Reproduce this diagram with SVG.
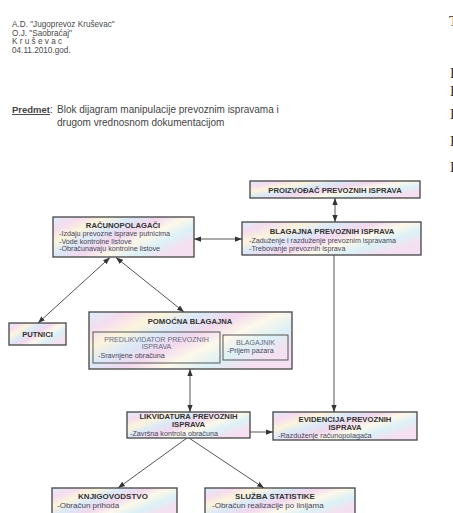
<svg xmlns="http://www.w3.org/2000/svg" width="453" height="513" viewBox="0 0 453 513">
  <defs>
    <!-- pastel "holographic" fill used by every box -->
    <linearGradient id="holo" x1="0" y1="0" x2="1" y2="0.6">
      <stop offset="0" stop-color="#daf0fa"/>
      <stop offset="0.14" stop-color="#f5dcef"/>
      <stop offset="0.28" stop-color="#fcf4dc"/>
      <stop offset="0.42" stop-color="#dbe9f8"/>
      <stop offset="0.56" stop-color="#f2d8ee"/>
      <stop offset="0.7" stop-color="#fdf8ea"/>
      <stop offset="0.85" stop-color="#dcf0f6"/>
      <stop offset="1" stop-color="#f5e0f1"/>
    </linearGradient>
    <marker id="arr" viewBox="0 0 8 6" refX="8" refY="3" markerWidth="7" markerHeight="5.5" markerUnits="userSpaceOnUse" orient="auto-start-reverse">
      <path d="M0,0 L8,3 L0,6 z" fill="#333"/>
    </marker>
    <style>
      .box { fill: url(#holo); stroke: #444; stroke-width: 1.3; }
      .inner { fill: none; stroke: #555; stroke-width: 1; }
      .hdr { font-family: "Liberation Sans", Arial, sans-serif; font-size: 8.2px; fill: #4a4a4a; }
      .subj { font-family: "Liberation Sans", Arial, sans-serif; font-size: 10px; fill: #444; }
      .t { font-family: "Liberation Sans", Arial, sans-serif; font-size: 7.7px; font-weight: bold; fill: #333; text-anchor: middle; }
      .tb { font-family: "Liberation Sans", Arial, sans-serif; font-size: 8px; font-weight: bold; fill: #333; text-anchor: middle; }
      .s { font-family: "Liberation Sans", Arial, sans-serif; font-size: 7.2px; fill: #4a4658; }
      .sb { font-family: "Liberation Sans", Arial, sans-serif; font-size: 8px; fill: #4a4658; }
      .n { font-family: "Liberation Sans", Arial, sans-serif; font-size: 7.1px; fill: #6a6a80; text-anchor: middle; }
      .edge { fill: none; stroke: #555; stroke-width: 1; }
      .frag { font-family: "Liberation Serif", "Times New Roman", serif; font-size: 15px; fill: #333; }
    </style>
  </defs>

  <rect width="453" height="513" fill="#ffffff"/>

  <!-- letterhead -->
  <g id="letterhead">
    <text class="hdr" x="12" y="27">A.D. "Jugoprevoz Kruševac"</text>
    <text class="hdr" x="12" y="35.5">O.J. "Saobraćaj"</text>
    <text class="hdr" x="12" y="44">K r u š e v a c</text>
    <text class="hdr" x="12" y="52.5">04.11.2010.god.</text>
  </g>

  <!-- subject line -->
  <g id="subject">
    <text class="subj" x="12" y="113"><tspan font-weight="bold" font-size="9.5px" text-decoration="underline">Predmet</tspan>: <tspan x="57">Blok dijagram manipulacije prevoznim ispravama i</tspan></text>
    <text class="subj" x="57" y="126">drugom vrednosnom dokumentacijom</text>
  </g>

  <!-- edge of the next page -->
  <g id="next-page">
    <text class="frag" x="449" y="26" font-size="9">T</text>
    <text class="frag" x="450" y="78">P</text>
    <text class="frag" x="450" y="96">P</text>
    <text class="frag" x="450" y="119">P</text>
    <text class="frag" x="450" y="146">P</text>
    <text class="frag" x="450" y="172">P</text>
  </g>

  <!-- connectors -->
  <g id="connectors">
    <line class="edge" x1="335" y1="198" x2="335" y2="222" marker-start="url(#arr)" marker-end="url(#arr)"/>
    <line class="edge" x1="194" y1="239" x2="242" y2="239" marker-start="url(#arr)" marker-end="url(#arr)"/>
    <line class="edge" x1="110" y1="257.5" x2="38" y2="323" marker-start="url(#arr)" marker-end="url(#arr)"/>
    <line class="edge" x1="116" y1="257.5" x2="184" y2="312" marker-start="url(#arr)" marker-end="url(#arr)"/>
    <line class="edge" x1="190" y1="369" x2="190" y2="412" marker-start="url(#arr)" marker-end="url(#arr)"/>
    <line class="edge" x1="334" y1="255" x2="334" y2="412" marker-end="url(#arr)"/>
    <line class="edge" x1="250" y1="432" x2="273" y2="432" marker-end="url(#arr)"/>
    <line class="edge" x1="187" y1="438" x2="118" y2="488" marker-end="url(#arr)"/>
    <line class="edge" x1="189" y1="438" x2="264" y2="488" marker-end="url(#arr)"/>
  </g>

  <g id="proizvodjac">
    <rect class="box" x="250" y="181" width="170" height="17"/>
    <text class="t" x="335" y="192.5">PROIZVOĐAČ PREVOZNIH ISPRAVA</text>
  </g>

  <g id="blagajna">
    <rect class="box" x="242" y="222" width="179" height="33"/>
    <text class="t" x="332" y="234">BLAGAJNA PREVOZNIH ISPRAVA</text>
    <text class="s" x="249" y="243">-Zaduženje i razduženje prevoznim ispravama</text>
    <text class="s" x="249" y="250.5">-Trebovanje prevoznih isprava</text>
  </g>

  <g id="racunopolagaci">
    <rect class="box" x="53" y="217" width="141" height="40"/>
    <text class="t" x="123" y="227.5">RAČUNOPOLAGAČI</text>
    <text class="s" x="59" y="236">-Izdaju prevozne isprave putnicima</text>
    <text class="s" x="59" y="243.5">-Vode kontrolne listove</text>
    <text class="s" x="59" y="251">-Obračunavaju kontrolne listove</text>
  </g>

  <g id="putnici">
    <rect class="box" x="9" y="323" width="57" height="22"/>
    <text class="t" x="37.5" y="336.5" font-size="7.9px">PUTNICI</text>
  </g>

  <g id="pomocna-blagajna">
    <rect class="box" x="89" y="312" width="203" height="57"/>
    <text class="t" x="190" y="323.5">POMOĆNA BLAGAJNA</text>
    <rect class="inner" x="93" y="332" width="127" height="31"/>
    <text class="n" x="156.5" y="341.5">PREDLIKVIDATOR PREVOZNIH</text>
    <text class="n" x="156.5" y="349">ISPRAVA</text>
    <text class="s" x="98" y="358">-Sravnjene obračuna</text>
    <rect class="inner" x="223" y="335" width="65" height="25"/>
    <text class="n" x="255.5" y="345">BLAGAJNIK</text>
    <text class="s" x="227" y="353">-Prijem pazara</text>
  </g>

  <g id="likvidatura">
    <rect class="box" x="127" y="412" width="123" height="26"/>
    <text class="t" x="188.5" y="419.3" font-size="7.3px">LIKVIDATURA PREVOZNIH</text>
    <text class="t" x="188.5" y="427.3" font-size="7.3px">ISPRAVA</text>
    <text class="s" x="130" y="435.8" font-size="6.9px">-Završna kontrola obračuna</text>
  </g>

  <g id="evidencija">
    <rect class="box" x="273" y="412" width="144" height="28"/>
    <text class="t" x="345" y="422">EVIDENCIJA PREVOZNIH</text>
    <text class="t" x="345" y="430">ISPRAVA</text>
    <text class="s" x="278" y="437.5">-Razduženje računopolagača</text>
  </g>

  <g id="knjigovodstvo">
    <rect class="box" x="52" y="488" width="125" height="30"/>
    <text class="tb" x="113" y="498.5">KNJIGOVODSTVO</text>
    <text class="sb" x="57" y="507.5">-Obračun prihoda</text>
  </g>

  <g id="sluzba-statistike">
    <rect class="box" x="205" y="488" width="150" height="30"/>
    <text class="tb" x="275" y="499">SLUŽBA STATISTIKE</text>
    <text class="sb" x="212" y="508">-Obračun realizacije po linijama</text>
  </g>
</svg>
